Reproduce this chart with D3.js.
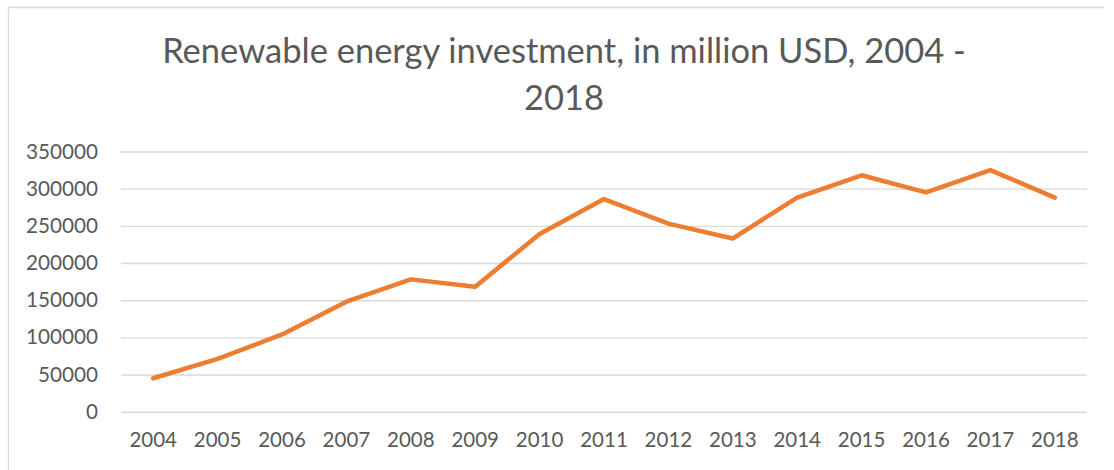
<!DOCTYPE html>
<html>
<head>
<meta charset="utf-8">
<script src="https://cdn.jsdelivr.net/npm/d3@7"></script>
<style>
  body { margin: 0; background: #fff; }
  text { font-family: Lato, "Open Sans", sans-serif; fill: #595959; }
</style>
</head>
<body>
<div id="canvas"></div>
<script>
const years = ["2004", "2005", "2006", "2007", "2008", "2009", "2010", "2011",
  "2012", "2013", "2014", "2015", "2016", "2017", "2018"];
const investment = [45000, 71000, 104000, 148000, 178000, 168000, 239000, 286000,
  253000, 233000, 288000, 318000, 295000, 325000, 288000];
const yTicks = [0, 50000, 100000, 150000, 200000, 250000, 300000, 350000];
const titleLines = ["Renewable energy investment, in million USD, 2004 -", "2018"];

const canvas = d3.select("#canvas");

const width = 1114;
const height = 470;
const margin = { top: 151.5, left: 121, bottom: 58.3, right: 27 };
const iwidth = width - margin.left - margin.right;
const iheight = height - margin.top - margin.bottom;

const svg = canvas.append("svg")
  .attr("width", width)
  .attr("height", height);

svg.append("rect").attr("width", width).attr("height", height).attr("fill", "#fff");

// chart area border (only top and left edges show in the frame)
svg.append("path")
  .attr("d", "M8.5,470 V7.5 H1104")
  .attr("fill", "none")
  .attr("stroke", "#d9d9d9")
  .attr("stroke-width", 1.3);

// title
const title = svg.append("g").attr("transform", "translate(564,0)");
title.selectAll("text")
  .data(titleLines)
  .enter()
  .append("text")
  .attr("text-anchor", "middle")
  .attr("y", (d, i) => 63 + i * 47)
  .style("font-size", "34.5px")
  .text((d) => d);

const g = svg.append("g")
  .attr("transform", `translate(${margin.left},${margin.top})`);

const x = d3.scaleBand().domain(years).range([0, iwidth]).padding(0);
const y = d3.scaleLinear().domain([0, 350000]).range([iheight, 0]);

// gridlines + y labels
const yAxis = g.append("g")
  .classed("y--axis", true)
  .call(d3.axisLeft(y).tickValues(yTicks).tickFormat(d3.format("d")).tickSize(-iwidth).tickPadding(23));
yAxis.select(".domain").remove();
yAxis.selectAll(".tick line").attr("stroke", "#d9d9d9").attr("stroke-width", 1.4);
yAxis.selectAll(".tick text")
  .attr("fill", "#595959")
  .style("font-size", "20.7px")
  .style("font-family", "Lato, sans-serif");

// x labels
const xAxis = g.append("g")
  .classed("x--axis", true)
  .attr("transform", `translate(0,${iheight})`)
  .call(d3.axisBottom(x).tickSize(0).tickPadding(21));
xAxis.select(".domain").remove();
xAxis.selectAll(".tick text")
  .attr("fill", "#595959")
  .style("font-size", "20.5px")
  .style("font-family", "Lato, sans-serif");

// the series
const line = d3.line()
  .x((d, i) => x(years[i]) + x.bandwidth() / 2)
  .y((d) => y(d));

g.append("path")
  .datum(investment)
  .attr("d", line)
  .attr("fill", "none")
  .attr("stroke", "#ED7D31")
  .attr("stroke-width", 4.5)
  .attr("stroke-linejoin", "round")
  .attr("stroke-linecap", "round");
</script>
</body>
</html>
